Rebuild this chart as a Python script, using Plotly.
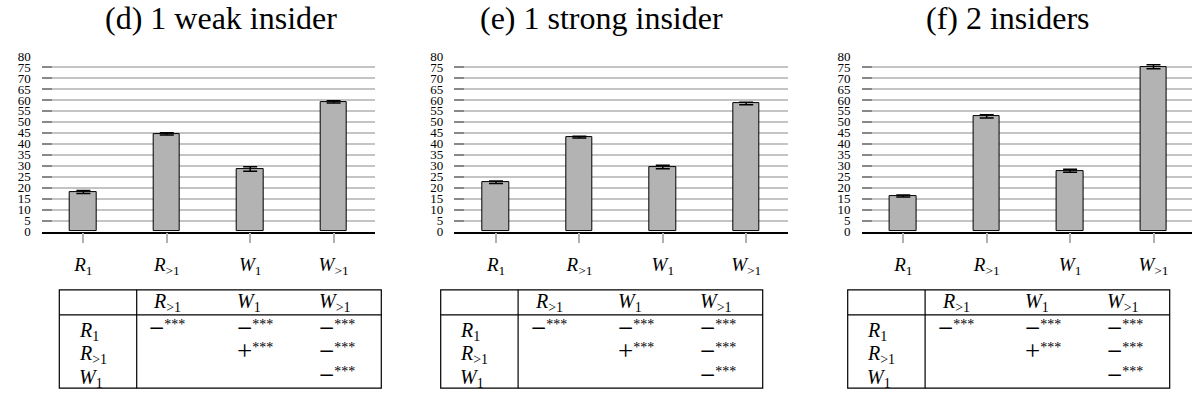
import plotly.graph_objects as go

W, H = 1192, 400

# ---------------- data ----------------
categories = ["R1", "R>1", "W1", "W>1"]
tick_labels = ["<i>R</i><sub>1</sub>", "<i>R</i><sub>&gt;1</sub>",
               "<i>W</i><sub>1</sub>", "<i>W</i><sub>&gt;1</sub>"]
titles = ["(d) 1 weak insider", "(e) 1 strong insider", "(f) 2 insiders"]

d_vals = [18.0, 44.5, 28.5, 59.1]
d_err = [0.7, 0.5, 1.0, 0.5]
e_vals = [22.5, 43.0, 29.4, 58.4]
e_err = [0.6, 0.4, 0.8, 0.6]
f_vals = [16.2, 52.5, 27.7, 75.1]
f_err = [0.5, 0.7, 0.7, 0.9]

y_ticks = list(range(0, 81, 5))

MINUS = '<span style="font-size:27px">−</span>'
PLUS = '<span style="font-size:27px">+</span>'
STARS = "<sup>***</sup>"
table_header = ["<i>R</i><sub>&gt;1</sub>", "<i>W</i><sub>1</sub>", "<i>W</i><sub>&gt;1</sub>"]
table_rows = ["<i>R</i><sub>1</sub>", "<i>R</i><sub>&gt;1</sub>", "<i>W</i><sub>1</sub>"]
table_cells = [[MINUS + STARS, MINUS + STARS, MINUS + STARS],
               ["", PLUS + STARS, MINUS + STARS],
               ["", "", MINUS + STARS]]

panels = [(d_vals, d_err), (e_vals, e_err), (f_vals, f_err)]

# ---------------- layout geometry (pixels) ----------------
def px(x):
    return x / W

def py(y):
    return 1 - y / H

plot_left = [41.7, 454.3, 861.6]
cat_w = 83.4
plot_top, plot_bot = 51.0, 233.3
title_x = [221, 601, 1008]
table_left = [59.3, 440.7, 847.7]
table_w = 322.0

FONT = "Liberation Serif"

fig = go.Figure()
for i, (vals, errs) in enumerate(panels):
    ax = "" if i == 0 else str(i + 1)
    fig.add_trace(go.Bar(
        x=list(range(len(categories))), y=vals,
        width=0.32,
        marker=dict(color="#b3b3b3", line=dict(color="black", width=1)),
        error_y=dict(type="data", array=errs, visible=True,
                     color="black", thickness=1.5, width=7),
        xaxis="x" + ax, yaxis="y" + ax, showlegend=False,
        hoverinfo="skip",
    ))

layout = dict(
    width=W, height=H,
    margin=dict(l=0, r=0, t=0, b=0),
    paper_bgcolor="white", plot_bgcolor="white",
    font=dict(family=FONT, color="black"),
    bargap=0,
)

annotations = []
shapes = []
for i in range(3):
    ax = "" if i == 0 else str(i + 1)
    left = plot_left[i]
    right = min(left + 4 * cat_w, W)
    rng_right = -0.5 + (right - left) / cat_w
    layout["xaxis" + ax] = dict(
        domain=[px(left), px(right)], anchor="y" + ax,
        range=[-0.5, rng_right],
        tickmode="array", tickvals=list(range(len(categories))), ticktext=tick_labels,
        ticks="outside", ticklen=10, tickcolor="#b0b0b0", tickwidth=1.5,
        showline=True, linecolor="black", linewidth=1.5,
        showgrid=False, zeroline=False,
        tickfont=dict(family=FONT, size=19, color="black"),
        ticklabelstandoff=5,
        fixedrange=True,
    )
    layout["yaxis" + ax] = dict(
        domain=[py(plot_bot), py(plot_top)], anchor="x" + ax,
        range=[0, 80],
        tickmode="array", tickvals=y_ticks, ticktext=[str(v) for v in y_ticks],
        ticks="inside", ticklen=10, tickcolor="#888888", tickwidth=1.5,
        showgrid=True, gridcolor="#c4c4c4", gridwidth=1.5,
        showline=False, zeroline=False,
        tickfont=dict(family=FONT, size=13, color="black"),
        ticklabelstandoff=10,
        fixedrange=True,
    )
    annotations.append(dict(
        text=titles[i], x=px(title_x[i]), y=py(11), xref="paper", yref="paper",
        xanchor="center", yanchor="middle", showarrow=False,
        font=dict(family=FONT, size=32, color="black"),
    ))

    # table
    L = table_left[i]
    R = L + table_w
    top, hline, bot = 293.8, 319.8, 396.0
    vsep = L + 77.4
    shapes.append(dict(type="rect", xref="paper", yref="paper",
                       x0=px(L), x1=px(R), y0=py(bot), y1=py(top),
                       line=dict(color="black", width=1.2)))
    shapes.append(dict(type="line", xref="paper", yref="paper",
                       x0=px(L), x1=px(R), y0=py(hline), y1=py(hline),
                       line=dict(color="black", width=1.2)))
    shapes.append(dict(type="line", xref="paper", yref="paper",
                       x0=px(vsep), x1=px(vsep), y0=py(bot), y1=py(top),
                       line=dict(color="black", width=1.2)))
    head_x = [L + 92, L + 175.7, L + 257.4]
    cell_x = [L + 88, L + 175.7, L + 257.4]
    row_y = [337, 361.5, 386]
    for j, h in enumerate(table_header):
        annotations.append(dict(
            text=h, x=px(head_x[j]), y=py(307.5), xref="paper", yref="paper",
            xanchor="left", yanchor="middle", showarrow=False,
            font=dict(family=FONT, size=20, color="black"),
        ))
    for r, lab in enumerate(table_rows):
        annotations.append(dict(
            text=lab, x=px(L + 17.4), y=py(row_y[r]), xref="paper", yref="paper",
            xanchor="left", yanchor="middle", showarrow=False,
            font=dict(family=FONT, size=20, color="black"),
        ))
        for c, cell in enumerate(table_cells[r]):
            if not cell:
                continue
            annotations.append(dict(
                text=cell, x=px(cell_x[c]), y=py(row_y[r] - 4), xref="paper", yref="paper",
                xanchor="left", yanchor="middle", showarrow=False,
                font=dict(family=FONT, size=20, color="black"),
            ))

layout["annotations"] = annotations
layout["shapes"] = shapes
fig.update_layout(**layout)
fig.write_html("out.html")
